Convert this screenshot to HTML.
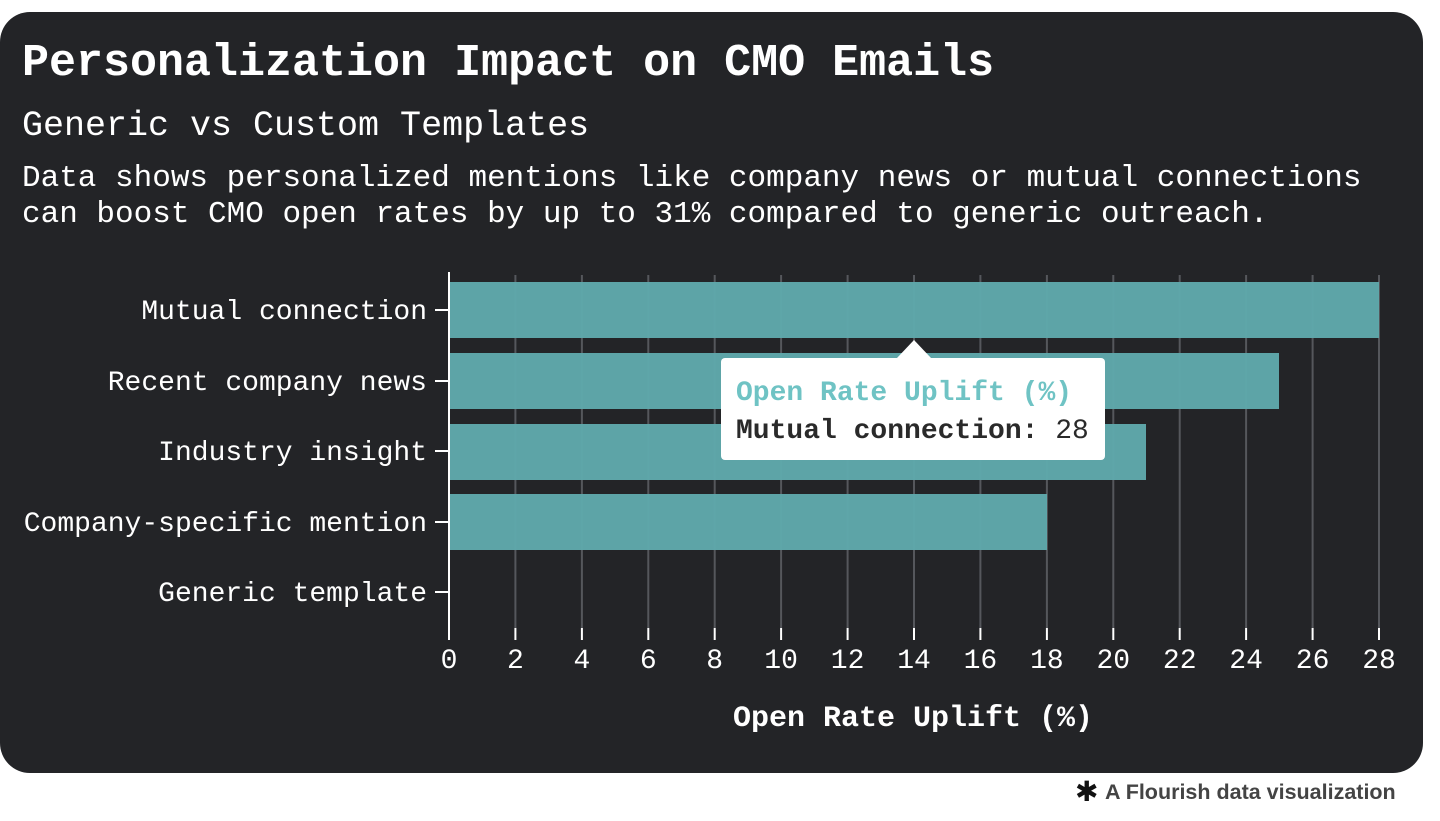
<!DOCTYPE html>
<html><head><meta charset="utf-8"><style>
body{margin:0;width:1440px;height:821px;background:#fff;position:relative;overflow:hidden;font-family:"Liberation Mono",monospace}
.card{position:absolute;left:0;top:12px;width:1423px;height:761px;background:#232427;border-radius:30px}
.t{position:absolute;left:22px;color:#fff;white-space:nowrap}
</style></head><body>
<div class="card"></div>
<div class="t" style="top:38px;font-size:45px;font-weight:bold">Personalization Impact on CMO Emails</div>
<div class="t" style="top:106px;font-size:35px">Generic vs Custom Templates</div>
<div class="t" style="top:161px;font-size:31px;line-height:36px">Data shows personalized mentions like company news or mutual connections<br>can boost CMO open rates by up to 31% compared to generic outreach.</div>
<svg width="1440" height="821" style="position:absolute;left:0;top:0" font-family="Liberation Mono, monospace">
<g stroke="#55575c" stroke-width="2">
<line x1="515.4" y1="275" x2="515.4" y2="628"/><line x1="581.9" y1="275" x2="581.9" y2="628"/><line x1="648.3" y1="275" x2="648.3" y2="628"/><line x1="714.7" y1="275" x2="714.7" y2="628"/><line x1="781.1" y1="275" x2="781.1" y2="628"/><line x1="847.6" y1="275" x2="847.6" y2="628"/><line x1="914" y1="275" x2="914" y2="628"/><line x1="980.4" y1="275" x2="980.4" y2="628"/><line x1="1046.9" y1="275" x2="1046.9" y2="628"/><line x1="1113.3" y1="275" x2="1113.3" y2="628"/><line x1="1179.7" y1="275" x2="1179.7" y2="628"/><line x1="1246.1" y1="275" x2="1246.1" y2="628"/><line x1="1312.6" y1="275" x2="1312.6" y2="628"/><line x1="1379" y1="275" x2="1379" y2="628"/>
</g>
<g fill="#5fa8ab" fill-opacity="0.97">
<rect x="449" y="282" width="930" height="56"/>
<rect x="449" y="353" width="830" height="56"/>
<rect x="449" y="424" width="697" height="56"/>
<rect x="449" y="494" width="598" height="56"/>
</g>
<g stroke="#fff" stroke-width="2">
<line x1="449" y1="272" x2="449" y2="640"/>
<line x1="435" y1="310" x2="449" y2="310"/><line x1="435" y1="381" x2="449" y2="381"/><line x1="435" y1="451" x2="449" y2="451"/><line x1="435" y1="522" x2="449" y2="522"/><line x1="435" y1="592" x2="449" y2="592"/>
<line x1="515.4" y1="628" x2="515.4" y2="640"/><line x1="581.9" y1="628" x2="581.9" y2="640"/><line x1="648.3" y1="628" x2="648.3" y2="640"/><line x1="714.7" y1="628" x2="714.7" y2="640"/><line x1="781.1" y1="628" x2="781.1" y2="640"/><line x1="847.6" y1="628" x2="847.6" y2="640"/><line x1="914" y1="628" x2="914" y2="640"/><line x1="980.4" y1="628" x2="980.4" y2="640"/><line x1="1046.9" y1="628" x2="1046.9" y2="640"/><line x1="1113.3" y1="628" x2="1113.3" y2="640"/><line x1="1179.7" y1="628" x2="1179.7" y2="640"/><line x1="1246.1" y1="628" x2="1246.1" y2="640"/><line x1="1312.6" y1="628" x2="1312.6" y2="640"/><line x1="1379" y1="628" x2="1379" y2="640"/>
</g>
<g fill="#fff" font-size="28" text-anchor="end">
<text x="427" y="319">Mutual connection</text>
<text x="427" y="390">Recent company news</text>
<text x="427" y="460">Industry insight</text>
<text x="427" y="531">Company-specific mention</text>
<text x="427" y="601">Generic template</text>
</g>
<g fill="#fff" font-size="28" text-anchor="middle">
<text x="449" y="668">0</text><text x="515.4" y="668">2</text><text x="581.9" y="668">4</text><text x="648.3" y="668">6</text><text x="714.7" y="668">8</text><text x="781.1" y="668">10</text><text x="847.6" y="668">12</text><text x="914" y="668">14</text><text x="980.4" y="668">16</text><text x="1046.9" y="668">18</text><text x="1113.3" y="668">20</text><text x="1179.7" y="668">22</text><text x="1246.1" y="668">24</text><text x="1312.6" y="668">26</text><text x="1379" y="668">28</text>
<text x="913" y="726" font-size="30" font-weight="bold">Open Rate Uplift (%)</text>
</g>
<rect x="721" y="358" width="384" height="102" rx="4" fill="#fff"/>
<polygon points="897,358 914,340 931,358" fill="#fff"/>
<text x="736" y="400" font-size="28" font-weight="bold" fill="#6fc3c4">Open Rate Uplift (%)</text>
<text x="736" y="438" font-size="28" fill="#2a2a2a"><tspan font-weight="bold">Mutual connection:</tspan> 28</text>
<text x="1075" y="801" font-size="28" fill="#111" font-family="Liberation Sans, sans-serif">✱</text>
<text x="1105" y="799" font-size="21.5" font-weight="bold" fill="#444" font-family="Liberation Sans, sans-serif">A Flourish data visualization</text>
</svg>
</body></html>
